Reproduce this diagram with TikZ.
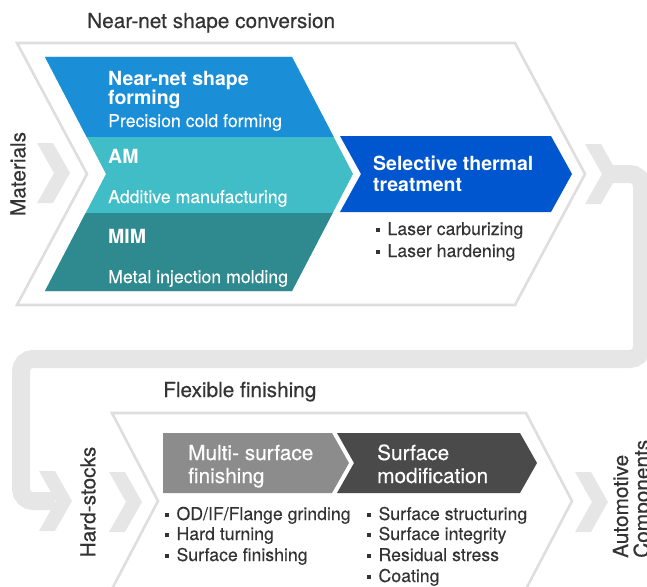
\documentclass[tikz,border=0pt]{standalone}
\usepackage{fontspec}
\setmainfont{TeX Gyre Heros}
\newfontfamily\medfont{TeX Gyre Heros}[FakeBold=0.4]
\newfontfamily\bookfont{TeX Gyre Heros}[FakeBold=0.15]

\definecolor{linegray}{HTML}{DEDEDE}
\definecolor{bandgray}{HTML}{E6E6E6}
\definecolor{formblue}{HTML}{1A8FD8}
\definecolor{amteal}{HTML}{41BDC8}
\definecolor{mimteal}{HTML}{2F8A90}
\definecolor{heatblue}{HTML}{0056CE}
\definecolor{fingray}{HTML}{8C8C8C}
\definecolor{modgray}{HTML}{4A4A4A}
\definecolor{txtgray}{HTML}{333333}

\newcommand\sqbul{\rule[0.16em]{0.22em}{0.22em}\hspace{0.42em}}

\tikzset{
  stageline/.style={draw=linegray, line width=2.6pt, line join=miter},
  flowband/.style={draw=bandgray, line width=18pt},
  stagetxt/.style={inner sep=0pt, text=txtgray, font=\medfont\fontsize{20.8}{24}\selectfont},
  headtxt/.style={inner sep=0pt, text=white, font=\fontsize{19.5}{22}\selectfont\bfseries},
  fintxt/.style={inner sep=0pt, text=white, font=\medfont\fontsize{20.8}{24}\selectfont},
  subtxt/.style={inner sep=0pt, text=white, font=\bookfont\fontsize{17.7}{20}\selectfont},
  itemtxt/.style={inner sep=0pt, text=txtgray, font=\bookfont\fontsize{17.7}{20}\selectfont},
  chev/.pic={\fill[bandgray] (-33,-30) -- (-17,-30) -- (0,0) -- (-17,30) -- (-33,30) -- (-16,0) -- cycle;}
}

\begin{document}
\begin{tikzpicture}[x=1pt, y=-1pt]
        \clip (0,0) rectangle (647,586);

        % stage outlines
        \draw[stageline] (17,43) -- (515,43) -- (585,174) -- (515,305) -- (17,305) -- (87,174) -- cycle;
        \draw[stageline] (112,413) -- (526,413) -- (572,501) -- (526,589) -- (112,589) -- (158,501) -- cycle;

        % return band
        \coordinate (bandin) at (606,174);
        \coordinate (bandout) at (55,501);
        \draw[flowband, rounded corners=12pt] (bandin) -- (642,174) -- (642,359) -- (21,359) -- (21,501) -- (bandout);
        \pic (chmat) at (70,173) {chev};
        \pic (chtop) at (618,174) {chev};
        \pic (chret) at (72,501) {chev};
        \pic (chhard) at (142,502) {chev};
        \pic (chauto) at (608,502) {chev};

        % near-net shape group
        \fill[amteal] (45,57) -- (292,57) -- (353,174) -- (292,291) -- (45,291) -- (106,174) -- cycle;
        \begin{scope}
            \clip (45,57) -- (292,57) -- (353,174) -- (292,291) -- (45,291) -- (106,174) -- cycle;
            \fill[formblue] (0,0) rectangle (647,137);
            \fill[mimteal] (0,213) rectangle (647,586);
        \end{scope}
        \fill[heatblue] (340,136) -- (551,136) -- (572,174) -- (551,212) -- (340,212) -- (361,174) -- cycle;

        % finishing group
        \fill[fingray] (163,433) -- (332,433) -- (349,463) -- (332,493) -- (163,493) -- cycle;
        \fill[modgray] (337,433) -- (520,433) -- (537,463) -- (520,493) -- (337,493) -- (354,463) -- cycle;

        \node[stagetxt, anchor=base west] (nsc) at (87,28) {Near-net shape conversion};
        \node[stagetxt, anchor=base west] (flex) at (163,397) {Flexible finishing};
        \node[stagetxt, rotate=90] (mat) at (18,174) {Materials};
        \node[stagetxt, rotate=90] (hard) at (88,502) {Hard-stocks};
        \node[stagetxt, rotate=90, anchor=base west] (auto1) at (628,558) {Automotive};
        \node[stagetxt, rotate=90, anchor=base west] (auto2) at (649,558) {Components};

        \node[headtxt, anchor=base west] (nns1) at (108,85) {Near-net shape};
        \node[headtxt, anchor=base west] (nns2) at (108,104) {forming};
        \node[subtxt, anchor=base west] (nns3) at (108,127) {Precision cold forming};
        \node[headtxt, anchor=base west] (am1) at (108,163) {AM};
        \node[subtxt, anchor=base west] (am2) at (108,203) {Additive manufacturing};
        \node[headtxt, anchor=base west] (mim1) at (108,243) {MIM};
        \node[subtxt, anchor=base west] (mim2) at (108,283) {Metal injection molding};

        \node[headtxt, anchor=base west] (stt1) at (373,170) {Selective thermal};
        \node[headtxt, anchor=base west] (stt2) at (373,191) {treatment};
        \node[itemtxt, anchor=base west] (stt3) at (376,235) {\sqbul Laser carburizing};
        \node[itemtxt, anchor=base west] (stt4) at (376,257) {\sqbul Laser hardening};

        \node[fintxt, anchor=base west] (msf1) at (188,460) {Multi- surface};
        \node[fintxt, anchor=base west] (msf2) at (188,483) {finishing};
        \node[itemtxt, anchor=base west] (msf3) at (165,520) {\sqbul OD/IF/Flange grinding};
        \node[itemtxt, anchor=base west] (msf4) at (165,540) {\sqbul Hard turning};
        \node[itemtxt, anchor=base west] (msf5) at (165,561) {\sqbul Surface finishing};

        \node[fintxt, anchor=base west] (smod1) at (377,460) {Surface};
        \node[fintxt, anchor=base west] (smod2) at (377,483) {modification};
        \node[itemtxt, anchor=base west] (smod3) at (367,520) {\sqbul Surface structuring};
        \node[itemtxt, anchor=base west] (smod4) at (367,540) {\sqbul Surface integrity};
        \node[itemtxt, anchor=base west] (smod5) at (367,561) {\sqbul Residual stress};
        \node[itemtxt, anchor=base west] (smod6) at (367,582) {\sqbul Coating};
\end{tikzpicture}
\end{document}
